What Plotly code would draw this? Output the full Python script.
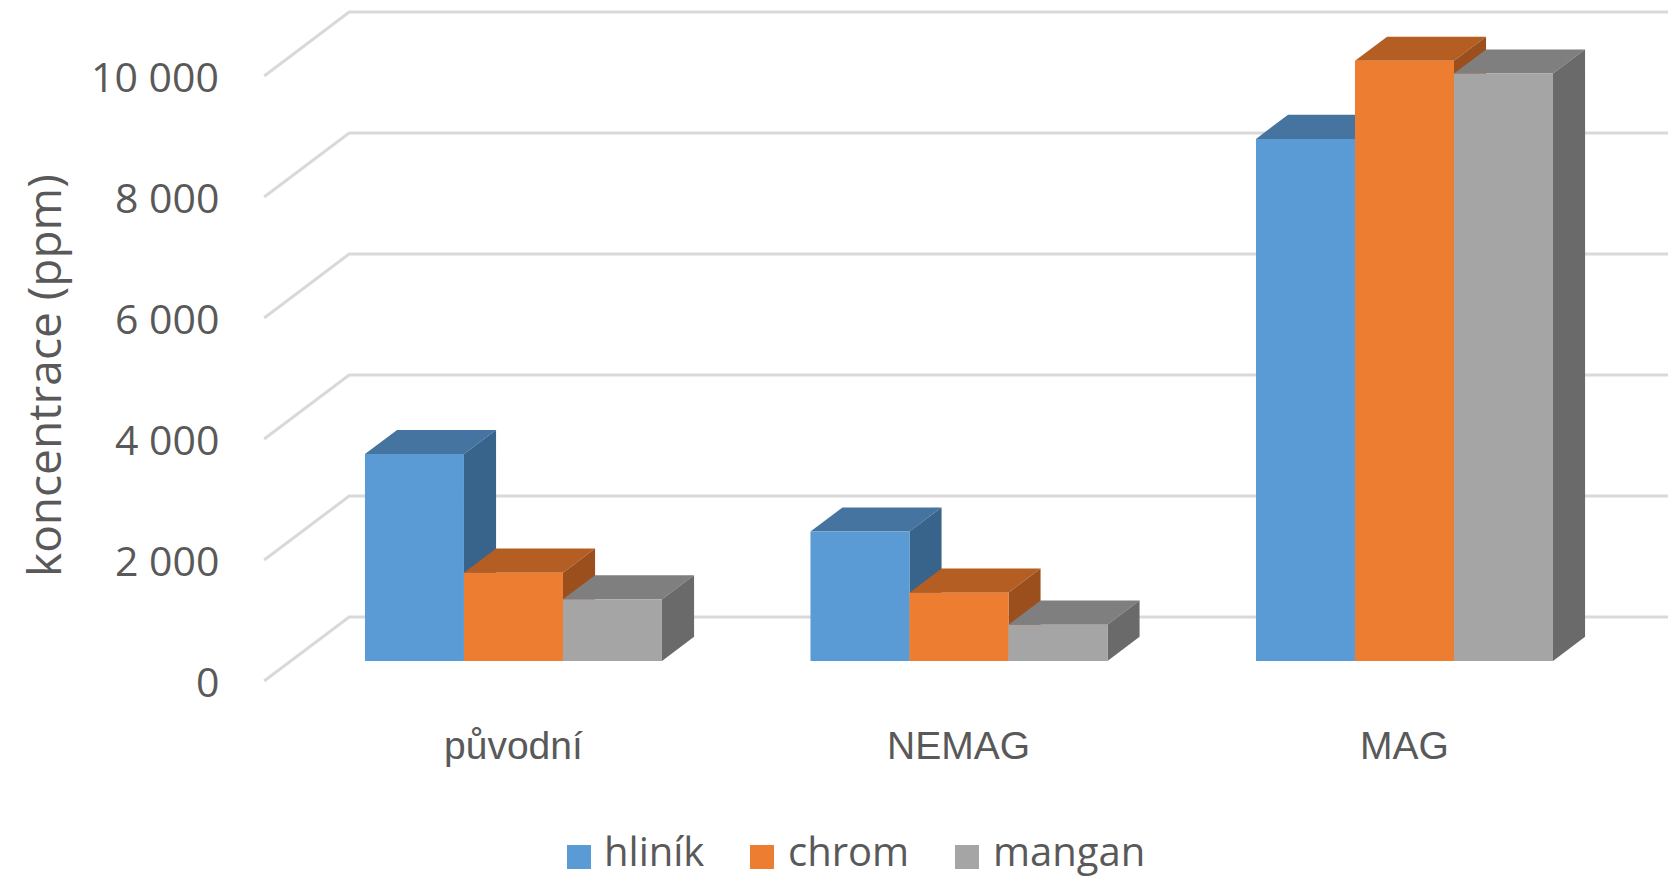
import plotly.graph_objects as go

# ---- data -------------------------------------------------------------
categories = ["původní", "NEMAG", "MAG"]
series_names = ["hliník", "chrom", "mangan"]
hlinik = [3420, 2140, 8630]
chrom = [1460, 1130, 9920]
mangan = [1020, 600, 9710]
y_ticks = [0, 2000, 4000, 6000, 8000, 10000]
y_title = "koncentrace (ppm)"

series_values = [hlinik, chrom, mangan]

# ---- styling ----------------------------------------------------------
front_colors = ["#5B9BD5", "#ED7D31", "#A5A5A5"]
top_colors = ["#4674A0", "#B55E23", "#7F7F7F"]
side_colors = ["#38638A", "#9A4F1C", "#6A6A6A"]
grid_color = "#D9D9D9"
text_color = "#595959"

W, H = 1668, 879
X_RANGE = [-1.1526, 2.5915]
Y_RANGE = [-3603, 10926]

N_SER = len(series_values)
BAR_W = 1.0 / (N_SER + 1.5)          # gap width 150 %

# oblique depth vector of the floor (front label plane -> back wall), data units
DEPTH_X = 0.1908
DEPTH_Y = 1058.0
F_FRONT = 0.3125                     # depth of the bar front faces
F_BACK = 0.69                        # depth of the bar back faces

# everything is expressed relative to the plane of the bar front faces
ax_dx, ax_dy = -F_FRONT * DEPTH_X, -F_FRONT * DEPTH_Y            # label plane
wall_dx, wall_dy = (1 - F_FRONT) * DEPTH_X, (1 - F_FRONT) * DEPTH_Y
bar_dx, bar_dy = (F_BACK - F_FRONT) * DEPTH_X, (F_BACK - F_FRONT) * DEPTH_Y

x_left = -0.5
x_right_far = len(categories) + 0.5

fig = go.Figure()

# front faces of the columns
for s in range(N_SER):
    fig.add_trace(go.Bar(
        x=list(range(len(categories))),
        y=series_values[s],
        name=series_names[s],
        marker=dict(color=front_colors[s], line=dict(width=0)),
        showlegend=False,
        hoverinfo="skip",
    ))

shapes = []

# floor/back-wall grid lines
for v in y_ticks:
    path = (f"M{x_left + ax_dx},{v + ax_dy} "
            f"L{x_left + wall_dx},{v + wall_dy} "
            f"L{x_right_far},{v + wall_dy}")
    shapes.append(dict(type="path", path=path, xref="x", yref="y",
                       line=dict(color=grid_color, width=3), layer="below"))

# top and side faces of the columns
for i in range(len(categories)):
    for s in range(N_SER):
        v = series_values[s][i]
        left = i + (s - (N_SER - 1) / 2) * BAR_W - BAR_W / 2
        right = left + BAR_W
        top = (f"M{left},{v} L{right},{v} L{right + bar_dx},{v + bar_dy} "
               f"L{left + bar_dx},{v + bar_dy} Z")
        side = (f"M{right},0 L{right},{v} L{right + bar_dx},{v + bar_dy} "
                f"L{right + bar_dx},{bar_dy} Z")
        shapes.append(dict(type="path", path=top, xref="x", yref="y",
                           fillcolor=top_colors[s], line=dict(width=0),
                           layer="below"))
        shapes.append(dict(type="path", path=side, xref="x", yref="y",
                           fillcolor=side_colors[s], line=dict(width=0),
                           layer="below"))

annotations = []

# value axis labels on the front plane
for v in y_ticks:
    annotations.append(dict(
        x=x_left + ax_dx, y=v + ax_dy, xref="x", yref="y",
        text=f"{v:,}".replace(",", " "), showarrow=False,
        xanchor="right", yanchor="middle", xshift=-43,
        font=dict(family="Open Sans", size=41, color=text_color)))

# category labels
for i, c in enumerate(categories):
    annotations.append(dict(
        x=i, y=(H - 745) / H, xref="x", yref="paper",
        text=c, showarrow=False, xanchor="center", yanchor="middle",
        font=dict(family="Liberation Sans", size=39, color=text_color)))

# axis title
annotations.append(dict(
    x=43 / W, y=(H - 376) / H, xref="paper", yref="paper",
    text=y_title, textangle=-90, showarrow=False,
    xanchor="center", yanchor="middle",
    font=dict(family="Open Sans", size=46, color=text_color)))

# legend
legend_sq_x = [567, 750, 955]
legend_txt_x = [602, 786, 991]
for s in range(N_SER):
    shapes.append(dict(type="rect", xref="paper", yref="paper",
                       x0=legend_sq_x[s] / W, x1=(legend_sq_x[s] + 24) / W,
                       y0=(H - 869) / H, y1=(H - 845) / H,
                       fillcolor=front_colors[s], line=dict(width=0)))
    annotations.append(dict(
        x=legend_txt_x[s] / W, y=(H - 850) / H, xref="paper", yref="paper",
        text=series_names[s], showarrow=False, xanchor="left",
        yanchor="middle",
        font=dict(family="Open Sans", size=40, color=text_color)))

fig.update_layout(
    width=W, height=H, autosize=False,
    margin=dict(l=0, r=0, t=0, b=0, pad=0),
    paper_bgcolor="white", plot_bgcolor="white",
    barmode="group", bargap=1 - N_SER * BAR_W, bargroupgap=0,
    xaxis=dict(range=X_RANGE, visible=False, fixedrange=True),
    yaxis=dict(range=Y_RANGE, visible=False, fixedrange=True),
    shapes=shapes, annotations=annotations,
    showlegend=False, hovermode=False,
)

fig.write_html("out.html", config={"displayModeBar": False})
